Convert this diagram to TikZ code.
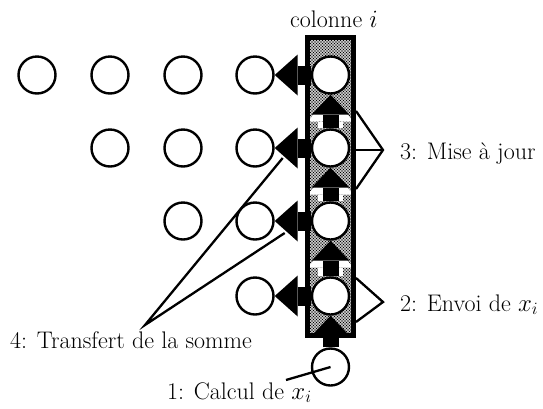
\documentclass[tikz,border=0pt]{standalone}
\usetikzlibrary{arrows.meta,patterns,backgrounds,calc,positioning}

% dense stipple for the column
\pgfdeclarepatternformonly{stipple}{\pgfqpoint{-1pt}{-1pt}}{\pgfqpoint{2.5pt}{2.5pt}}{\pgfqpoint{3pt}{3pt}}{%
  \pgfpathcircle{\pgfqpoint{0pt}{0pt}}{0.9pt}%
  \pgfpathcircle{\pgfqpoint{1.5pt}{1.5pt}}{0.9pt}%
  \pgfusepath{fill}}

\tikzset{
  cell/.style={circle,draw,line width=2.4pt,fill=white,minimum size=37pt,inner sep=0pt},
  colbox/.style={pattern=stipple,minimum width=46pt,minimum height=298pt,inner sep=0pt},
  hbar/.style={line width=19pt,-{Triangle[width=41pt,length=23pt,line width=0pt]}},
  vbar/.style={line width=16pt,-{Triangle[width=38pt,length=20pt,line width=0pt]},
    preaction={draw=white,line width=25pt,-{Triangle[width=46pt,length=27pt,line width=0pt]}}},
  lead/.style={line width=2.3pt},
  lbl/.style={font=\fontsize{24}{28}\selectfont,inner sep=0pt},
}

\begin{document}
\begin{tikzpicture}[x=1pt,y=-1pt]
	\useasboundingbox (0,0) rectangle (543,408);
	% the triangle of cells left of the column
	\node[cell] (p11) at (37,75) {};
	\node[cell] (p12) at (110,75) {};
	\node[cell] (p13) at (183,75) {};
	\node[cell] (p14) at (255,75) {};
	\node[cell] (p22) at (110,148) {};
	\node[cell] (p23) at (183,148) {};
	\node[cell] (p24) at (255,148) {};
	\node[cell] (p33) at (183,221) {};
	\node[cell] (p34) at (255,221) {};
	\node[cell] (p44) at (255,296) {};
	% column i and the cell below it
	\node[cell] (c1) at (330.5,75) {};
	\node[cell] (c2) at (330.5,148) {};
	\node[cell] (c3) at (330.5,221) {};
	\node[cell] (c4) at (330.5,296) {};
	\node[cell] (c0) at (330.5,367) {};

	\begin{scope}[on background layer]
	\node[colbox] (col) at (330.5,186.5) {};
	\draw[vbar] (c0)--(c4);
	\draw[vbar] (c4)--(c3);
	\draw[vbar] (c3)--(c2);
	\draw[vbar] (c2)--(c1);
	\draw[hbar] (c1)--(p14);
	\draw[hbar] (c2)--(p24);
	\draw[hbar] (c3)--(p34);
	\draw[hbar] (c4)--(p44);
	\draw[line width=5pt] (col.south west) rectangle (col.north east);
	\end{scope}

	\node[lbl,anchor=base] (t0) at (334,27) {colonne $i$};

	% 3: update
	\coordinate (m) at (383,150);
	\coordinate (m1) at (356,111);
	\coordinate (m2) at (356,150);
	\coordinate (m3) at (356,189);
	\draw[lead] (m1)--(m)--(m3);
	\draw[lead] (m)--(m2);
	\node[lbl,anchor=base west] (t3) at (400,159) {3: Mise à jour};

	% 2: send x_i
	\coordinate (e) at (383,302);
	\coordinate (e1) at (356,278);
	\coordinate (e2) at (356,322);
	\draw[lead] (e1)--(e)--(e2);
	\node[lbl,anchor=base west] (t2) at (400,311) {2: Envoi de $x_i$};

	% 4: transfer of the sum
	\coordinate (s) at (145,325);
	\draw[lead] ($(p24.east)+(8,10)$)--(s)--($(p34.east)+(10,12)$);
	\node[lbl,anchor=base west] (t4) at (10,348) {4: Transfert de la somme};

	% 1: compute x_i
	\coordinate (k) at (286,380);
	\draw[lead] (k)--(c0.center);
	\node[lbl,anchor=base west] (t1) at (167,399) {1: Calcul de $x_i$};
\end{tikzpicture}
\end{document}
